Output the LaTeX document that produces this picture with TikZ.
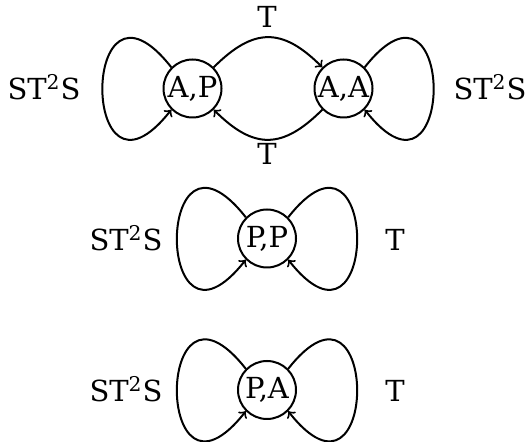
\documentclass[tikz,border=0pt]{standalone}
\usepackage{fontspec}
\setmainfont{DejaVu Serif}
\usetikzlibrary{calc}
\begin{document}
\begin{tikzpicture}[x=0.5pt,y=-0.5pt,
  txt/.style={font=\fontsize{14.5}{17}\selectfont, inner sep=0pt},
  state/.style={txt, circle, draw, line width=1pt, minimum size=29pt},
  lbl/.style={txt, anchor=base},
  conn/.style={line width=1pt, ->}]
\useasboundingbox (0,0) rectangle (530,442);
% states
\node[state] (ap) at (192.5,88.5) {A,P};
\node[state] (aa) at (343.5,88.5) {A,A};
\node[state] (pp) at (267,238.5) {P,P};
\node[state] (pa) at (267,390) {P,A};
% labels
\node[lbl] (l1) at (44,100) {ST\textsuperscript{2}S};
\node[lbl] (l2) at (490,100) {ST\textsuperscript{2}S};
\node[lbl] (l3) at (267,28) {T};
\node[lbl] (l4) at (267,165) {T};
\node[lbl] (l5) at (126,251) {ST\textsuperscript{2}S};
\node[lbl] (l6) at (395,251) {T};
\node[lbl] (l7) at (126,402) {ST\textsuperscript{2}S};
\node[lbl] (l8) at (395,402) {T};
% transitions between A,P and A,A
\draw[conn] (ap.45) .. controls ($(ap.45)+(40,-40)$) and ($(aa.135)+(-40,-40)$) .. (aa.135);
\draw[conn] (aa.-135) .. controls ($(aa.-135)+(-40,40)$) and ($(ap.-45)+(40,40)$) .. (ap.-45);
% loops
\foreach \n in {ap,pp,pa}{
  \draw[conn] (\n.135) .. controls ($(\n)+(-113,-138)$) and ($(\n)+(-113,138)$) .. (\n.-135);
}
\foreach \n in {aa,pp,pa}{
  \draw[conn] (\n.45) .. controls ($(\n)+(113,-138)$) and ($(\n)+(113,138)$) .. (\n.-45);
}
\end{tikzpicture}
\end{document}
